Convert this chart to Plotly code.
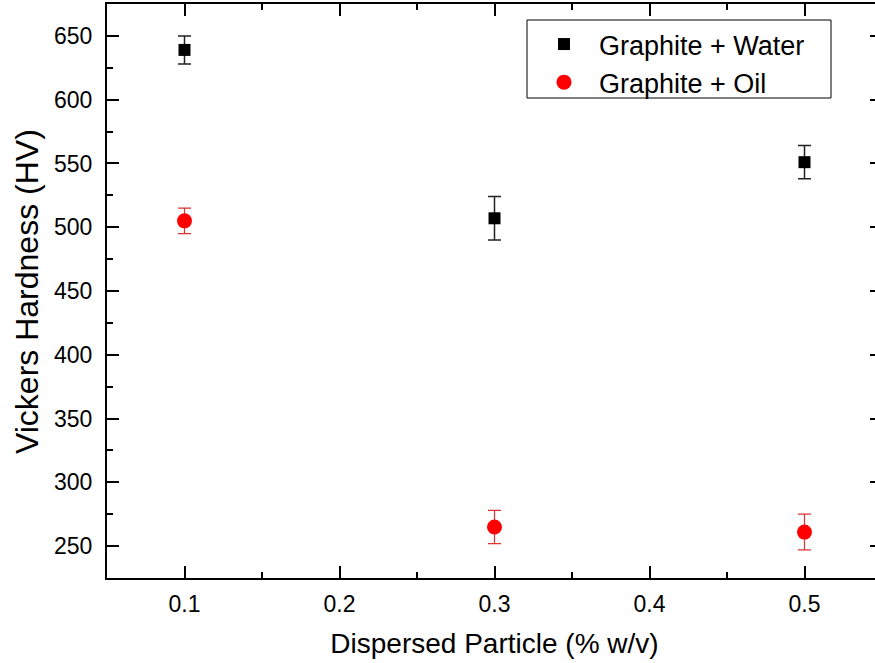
import plotly.graph_objects as go

x_vals = [0.1, 0.3, 0.5]
water_hv = [639, 507, 551]
water_err = [11, 17, 13]
oil_hv = [505, 265, 261]
oil_err = [10, 13, 14]

FONT = "Liberation Sans, Arial, sans-serif"

fig = go.Figure()
fig.add_trace(go.Scatter(
    x=x_vals, y=water_hv, mode="markers", name="Graphite + Water",
    marker=dict(symbol="square", size=12, color="black"),
    error_y=dict(type="data", array=water_err, color="#222222", thickness=1.5, width=6.5),
))
fig.add_trace(go.Scatter(
    x=x_vals, y=oil_hv, mode="markers", name="Graphite + Oil",
    marker=dict(symbol="circle", size=15, color="#ff0000"),
    error_y=dict(type="data", array=oil_err, color="#e03030", thickness=1.2, width=6.5),
))

# the plot area runs slightly past the right edge of the window, as in the reference
W, H = 883, 663
L, R, T, B = 107, 1, 4, 85
pw, ph = W - L - R, H - T - B

def px_x(p):
    return (p - L) / pw

def px_y(p):
    return 1 - (p - T) / ph

fig.update_layout(
    width=W, height=H,
    margin=dict(l=L, r=R, t=T, b=B, autoexpand=False),
    paper_bgcolor="white", plot_bgcolor="white",
    font=dict(family=FONT, color="black"),
    showlegend=True,
    legend=dict(
        x=px_x(529), y=px_y(20), xanchor="left", yanchor="top",
        borderwidth=0, bgcolor="rgba(0,0,0,0)",
        font=dict(size=27, family=FONT, color="black"),
        tracegroupgap=0, itemwidth=60,
    ),
    shapes=[dict(type="rect", xref="paper", yref="paper",
                 x0=px_x(527), x1=px_x(831), y0=px_y(98), y1=px_y(20),
                 line=dict(color="black", width=1), layer="below")],
    annotations=[dict(text="Vickers Hardness (HV)", xref="paper", yref="paper",
                      x=px_x(27), y=px_y(292), xanchor="center", yanchor="middle",
                      textangle=-90, showarrow=False,
                      font=dict(size=32, family=FONT, color="black"))],
    xaxis=dict(
        range=[0.05, 0.55], dtick=0.1, tick0=0.1, automargin=False,
        showline=True, linecolor="black", linewidth=2, mirror="ticks",
        ticks="inside", ticklen=12, tickwidth=2, tickcolor="black",
        minor=dict(dtick=0.05, tick0=0.05, ticks="inside", ticklen=6, tickwidth=2, tickcolor="black"),
        showgrid=False, zeroline=False, ticklabelstandoff=4,
        tickfont=dict(size=23, family=FONT, color="black"),
        title=dict(text="Dispersed Particle (% w/v)", font=dict(size=28, family=FONT, color="black"), standoff=18),
    ),
    yaxis=dict(
        range=[225, 675], dtick=50, tick0=250, automargin=False,
        showline=True, linecolor="black", linewidth=2, mirror="ticks",
        ticks="inside", ticklen=12, tickwidth=2, tickcolor="black",
        minor=dict(dtick=25, tick0=225, ticks="inside", ticklen=6, tickwidth=2, tickcolor="black"),
        showgrid=False, zeroline=False, ticklabelstandoff=8,
        tickfont=dict(size=23, family=FONT, color="black"),
    ),
)

fig.write_html(
    "out.html",
    config={"displayModeBar": False},
    post_script="document.body.style.margin='0';document.body.style.overflow='hidden';"
                "document.documentElement.style.overflow='hidden';",
)
